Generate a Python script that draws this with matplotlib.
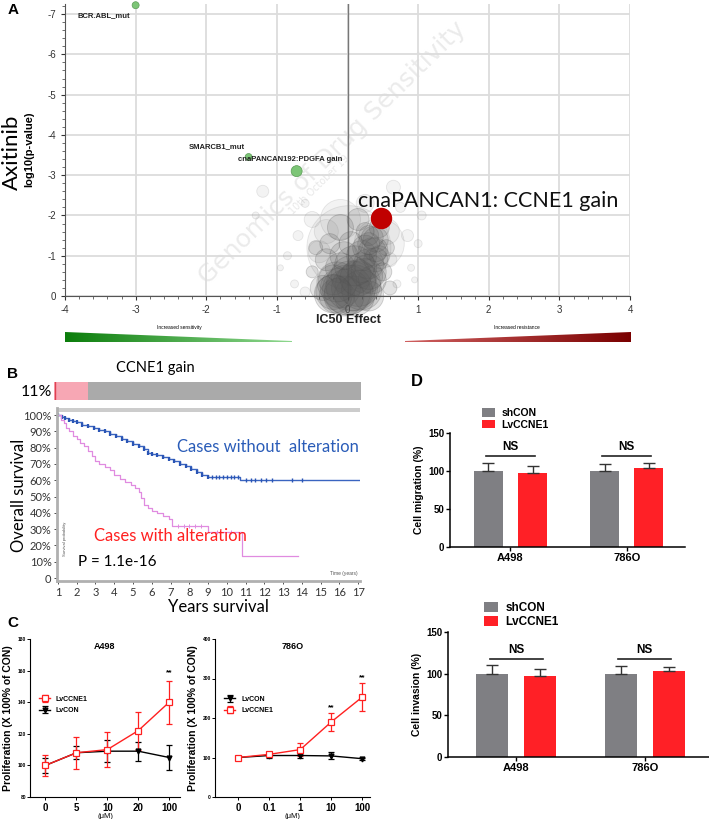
import numpy as np
import matplotlib
matplotlib.use("Agg")
import matplotlib.pyplot as plt
from matplotlib.patches import Polygon
from matplotlib.ticker import MultipleLocator
from matplotlib.colors import LinearSegmentedColormap

plt.rcParams['axes.unicode_minus'] = False
plt.rcParams['font.family'] = ['Liberation Sans', 'DejaVu Sans']

W, H = 709, 819

# ---- panel A data ----
hit_labels = ['BCR.ABL_mut', 'SMARCB1_mut', 'cnaPANCAN192:PDGFA gain']
hit_x = [-3.0, -1.4, -0.72]
hit_y = [-7.22, -3.45, -3.1]
hit_d = [7, 7, 11]
ccne1_x, ccne1_y = 0.47, -1.93

# background features (x effect, log10 p, bubble diameter px)
cloud_x = [0.0, -0.1, 0.15, 0.25, -0.2, 0.3, 0.35, 0.4, 0.45, 0.2, -0.1, -0.3, -0.35, 0.05,
           0.1, -0.15, 0.3, 0.5, 0.55, -0.45, -0.5, 0.6, -0.25, 0.05, -0.05, 0.25, 0.15, -0.1,
           0.0, 0.1, -0.2, 0.2, 0.35, 0.4, -0.05, 0.3, 0.45, 0.3,
           0.05, 0.2, -0.15, 0.3, 0.25, 0.35, 0.1, -0.2, 0.4, 0.15]
cloud_y = [-0.1, -0.2, -0.3, -0.5, -0.4, -0.8, -1.1, -1.4, -1.7, -1.0, -0.7, -0.9, -0.2, -0.5,
           0.0, 0.0, 0.0, -0.6, -1.2, -1.2, -0.6, -0.2, -1.3, -1.3, -1.0, -1.6, -1.9, -1.7,
           -0.15, -0.2, -0.05, -0.7, -0.4, -0.9, 0.0, -1.3, -1.0, -1.5,
           -0.25, -0.15, -0.35, -0.6, -1.2, -1.45, -0.75, -0.1, -1.15, -0.45]
cloud_d = [46, 40, 45, 35, 30, 30, 28, 25, 20, 30, 30, 22, 25, 40,
           40, 35, 30, 18, 16, 14, 12, 14, 20, 24, 28, 18, 22, 26,
           50, 46, 38, 30, 28, 24, 40, 22, 20, 20,
           50, 40, 40, 35, 25, 22, 40, 35, 24, 36]
faint_x = [0.02, -0.1, 0.45, -1.2, -1.3, -0.7, 0.65, 1.05, 1.0, 0.85, -0.85, -0.95, 0.9, 0.7,
           -0.6, 0.75, -0.5, -0.4, 0.55, -0.75, 0.6, 0.95, -0.6, 0.25, -0.3]
faint_y = [-1.2, -1.9, -1.3, -2.6, -2.0, -1.5, -2.7, -2.0, -1.3, -1.5, -1.0, -0.7, -0.7, -0.3,
           -2.3, -2.2, -1.9, -1.1, -1.6, -0.3, -0.9, -0.4, -0.1, -2.3, -1.6]
faint_d = [84, 40, 50, 12, 7, 10, 14, 9, 8, 12, 8, 6, 7, 8,
           8, 10, 16, 22, 26, 8, 14, 6, 10, 18, 24]

# ---- panel B data ----
alt_pct = 11
blue_t = [1.0, 1.2, 1.4, 1.6, 1.8, 2.0, 2.3, 2.6, 2.9, 3.2, 3.5, 3.8, 4.1, 4.4, 4.7, 5.0,
          5.3, 5.6, 5.8, 6.0, 6.3, 6.6, 6.9, 7.2, 7.5, 7.8, 8.1, 8.4, 8.7, 9.0, 10.7, 17.2]
blue_s = [100, 99, 98, 97, 96.5, 95.5, 94, 93, 92, 91, 90, 88.5, 87, 85.5, 84, 82.5,
          81, 79, 77, 76, 75.5, 74.5, 73, 71.5, 70, 68.5, 67, 65, 63.5, 62, 60, 60]
blue_cens_t = [9.2, 9.4, 9.6, 9.8, 10.0, 10.2, 10.4, 10.6, 11.0, 11.3, 11.5, 11.8, 12.1, 12.4, 13.5, 14.0]
blue_cens_s = [62, 62, 62, 62, 62, 62, 62, 62, 60, 60, 60, 60, 60, 60, 60, 60]
pink_t = [1.0, 1.15, 1.3, 1.45, 1.6, 1.8, 2.0, 2.2, 2.4, 2.6, 2.8, 3.0, 3.2, 3.5, 3.8, 4.0,
          4.3, 4.6, 4.9, 5.1, 5.3, 5.45, 5.6, 5.8, 6.0, 6.3, 6.6, 6.9, 7.1, 9.0, 10.8, 13.8]
pink_s = [100, 97, 95, 92, 90, 87, 85, 83, 81, 78, 75, 72, 70, 68, 66, 63,
          61, 59, 57, 55, 53, 49, 45, 43, 41, 40, 38, 36, 32, 28, 13.5, 13.5]
pink_cens_t = [7.4, 7.7, 8.0, 8.3, 8.6, 9.5, 10.2]
pink_cens_s = [32, 32, 32, 32, 32, 28, 28]

# ---- panel C data ----
a498_doses = ['0', '5', '10', '20', '100']
a498_cc = [100, 108, 110, 122, 140]
a498_cc_err = [6.5, 10, 11, 12, 13.5]
a498_con = [100, 108, 109, 109, 105]
a498_con_err = [5, 4, 7, 6, 8]
o786_doses = ['0', '0.1', '1', '10', '100']
o786_cc = [100, 108, 120, 190, 253]
o786_cc_err = [5, 4, 16, 22, 35]
o786_con = [100, 105, 105, 104, 97]
o786_con_err = [5, 6, 7, 9, 3]

# ---- panel D data ----
cells = ['A498', '786O']
mig_sh = [100, 100]
mig_sh_err = [10, 8.6]
mig_lv = [97.6, 104]
mig_lv_err = [9, 6]
inv_sh = [100, 100]
inv_sh_err = [10, 9]
inv_lv = [97, 103]
inv_lv_err = [9, 5]

fig = plt.figure(figsize=(W / 100, H / 100), dpi=100)


def add_ax(l, t, r, b):
    return fig.add_axes([l / W, 1 - b / H, (r - l) / W, (b - t) / H])


def ftext(x, y, s, **kw):
    fig.text(x / W, 1 - y / H, s, **kw)


def pt2(dpx):
    return (dpx * 0.72) ** 2


# ================= A =================
axA = add_ax(65, 4, 630, 296)
axA.set_xlim(-4, 4)
axA.set_ylim(0, -7.25)
axA.set_xticks(range(-4, 5))
axA.set_yticks(range(0, -8, -1))
axA.xaxis.set_minor_locator(MultipleLocator(0.2))
axA.yaxis.set_minor_locator(MultipleLocator(0.2))
axA.grid(color='#dcdcdc', lw=1.3)
axA.set_axisbelow(True)
for s in ['top', 'right']:
    axA.spines[s].set_visible(False)
for s in ['left', 'bottom']:
    axA.spines[s].set_color('#555555')
axA.tick_params(labelsize=7, colors='#333333', length=3, width=0.8)
axA.tick_params(which='minor', length=2, width=0.6, colors='#555555')
axA.axvline(0, color='#777777', lw=1, zorder=1)
axA.text(-0.22, -3.55, 'Genomics of Drug Sensitivity', rotation=44.5, rotation_mode='anchor',
         ha='center', va='center', fontsize=18, color='#ebebeb', family='DejaVu Sans', zorder=0.5)
axA.text(-0.4, -2.75, '10th October 19', rotation=44.5, rotation_mode='anchor',
         ha='center', va='center', fontsize=7, color='#e8e8e8', family='DejaVu Sans', zorder=0.5)
axA.scatter(faint_x, faint_y, s=[pt2(d) for d in faint_d], facecolor=(0.55, 0.55, 0.55, 0.10),
            edgecolor=(0.5, 0.5, 0.5, 0.18), lw=0.6, clip_on=False, zorder=2)
axA.scatter(cloud_x, cloud_y, s=[pt2(d) for d in cloud_d], facecolor=(0.35, 0.35, 0.35, 0.17),
            edgecolor=(0.3, 0.3, 0.3, 0.25), lw=0.6, clip_on=False, zorder=2)
axA.scatter(hit_x, hit_y, s=[pt2(d) for d in hit_d], color='#7cc576', edgecolor='#5a9a55',
            lw=0.5, clip_on=False, zorder=3)
axA.scatter([ccne1_x], [ccne1_y], s=pt2(20), color='#c00000', zorder=4)
axA.text(hit_x[0] - 0.08, hit_y[0] + 0.25, hit_labels[0], ha='right', va='center',
         fontsize=5.5, weight='bold', color='#222222')
axA.text(hit_x[1] - 0.05, hit_y[1] - 0.25, hit_labels[1], ha='right', va='center',
         fontsize=5.5, weight='bold', color='#222222')
axA.text(hit_x[2] + 0.65, hit_y[2] - 0.3, hit_labels[2], ha='right', va='center',
         fontsize=5.5, weight='bold', color='#222222')
axA.text(0.15, ccne1_y - 0.43, 'cnaPANCAN1: CCNE1 gain', ha='left', va='center',
         fontsize=15.5, family='Lato', color='#111111')
ftext(13, 10, 'A', fontsize=11, weight='bold', ha='center', va='center')
ftext(12, 152, 'Axitinib', fontsize=16, rotation=90, ha='center', va='center', family='Lato')
ftext(29, 149, 'log10(p-value)', fontsize=8, weight='bold', rotation=90, ha='center', va='center')
ftext(348, 320, 'IC50 Effect', fontsize=9, weight='bold', ha='center', va='center', color='#222222')
ftext(179, 327.5, 'Increased sensitivity', fontsize=3.5, ha='center', va='center')
ftext(517, 327.5, 'Increased resistance', fontsize=3.5, ha='center', va='center')

axO = fig.add_axes([0, 0, 1, 1])
axO.set_xlim(0, W)
axO.set_ylim(H, 0)
axO.axis('off')
axO.patch.set_alpha(0)
green_map = LinearSegmentedColormap.from_list('g', ['#0b7d0b', '#8fd88f'])
red_map = LinearSegmentedColormap.from_list('r', ['#d06060', '#7a0000'])
grad = np.linspace(0, 1, 256).reshape(1, -1)
im = axO.imshow(grad, cmap=green_map, extent=[65, 292, 342, 332], aspect='auto')
im.set_clip_path(Polygon([(65, 332), (292, 341), (292, 342), (65, 342)], transform=axO.transData))
im = axO.imshow(grad, cmap=red_map, extent=[405, 631, 342, 332], aspect='auto')
im.set_clip_path(Polygon([(405, 341), (631, 332), (631, 342), (405, 342)], transform=axO.transData))

# ================= B =================
axBar = add_ax(54, 382, 361, 400)
axBar.barh(0, alt_pct, left=0, height=1, color='#f7a7b4')
axBar.barh(0, 100 - alt_pct, left=alt_pct, height=1, color='#aaaaaa')
axBar.set_xlim(0, 100)
axBar.set_ylim(-0.5, 0.5)
axBar.axis('off')
axBar.axvline(0.2, color='#e04050', lw=1)
ftext(155, 368, 'CCNE1 gain', fontsize=10.5, family='Lato', ha='center', va='center')
ftext(36, 392, '11%', fontsize=11.5, family='Lato', ha='center', va='center')
ftext(13, 374, 'B', fontsize=11, weight='bold', ha='center', va='center')

axK = add_ax(57, 407.7, 360, 581.3)
axK.set_xlim(0.95, 17.1)
axK.set_ylim(-2, 104.5)
axK.axhspan(101.6, 104.5, color='#cccccc', lw=0)
axK.plot(blue_t, blue_s, drawstyle='steps-post', color='#3a64c0', lw=1.0)
axK.plot(blue_t[:-2], blue_s[:-2], ls='none', marker='|', ms=3.5, mew=1.6, color='#2a55b5')
axK.plot(blue_cens_t, blue_cens_s, ls='none', marker='|', ms=3, mew=1, color='#2a55b5')
axK.plot(pink_t, pink_s, drawstyle='steps-post', color='#e08be0', lw=0.9)
axK.plot(pink_cens_t, pink_cens_s, ls='none', marker='|', ms=2.5, mew=0.7, color='#e08be0')
axK.set_xticks(range(1, 18))
axK.set_yticks(range(0, 101, 10))
axK.set_yticklabels(['0'] + [f'{v}%' for v in range(10, 101, 10)])
axK.tick_params(labelsize=8, length=2, width=0.6, colors='#333333', pad=2)
for lab in axK.get_xticklabels() + axK.get_yticklabels():
    lab.set_family('Lato')
for s in ['top', 'right']:
    axK.spines[s].set_visible(False)
for s in ['left', 'bottom']:
    axK.spines[s].set_color('#b0b0b0')
    axK.spines[s].set_linewidth(2)
axK.text(1.35, 24, 'Survival probability', rotation=90, fontsize=3, ha='center', va='center', color='#555555')
axK.text(16.95, 1, 'Time (years)', fontsize=3.5, ha='right', va='bottom', color='#555555')
ftext(268, 447, 'Cases without  alteration', fontsize=12, family='Lato', color='#2a5cb8', ha='center', va='center')
ftext(170, 536, 'Cases with alteration', fontsize=12, family='Lato', color='#ff2020', ha='center', va='center')
ftext(117, 562, 'P = 1.1e-16', fontsize=11, family='Lato', ha='center', va='center')
ftext(19, 495, 'Overall survival', fontsize=12, family='Lato', rotation=90, ha='center', va='center')
ftext(218, 607, 'Years survival', fontsize=12, family='Lato', ha='center', va='center')

# ================= C =================
ftext(13, 623, 'C', fontsize=11, weight='bold', ha='center', va='center')


def prolif(ax, doses, cc, cc_err, con, con_err, ylim, yticks, con_first):
    xs = np.arange(len(doses))
    l1 = ax.errorbar(xs, con, yerr=con_err, color='black', marker='v', ms=3.5, lw=1,
                     capsize=2.5, elinewidth=0.9, capthick=0.9, label='LvCON')
    l2 = ax.errorbar(xs, cc, yerr=cc_err, color='#ff2020', marker='s', ms=4.5, mfc='white',
                     mec='#ff2020', mew=0.9, lw=1, capsize=2.5, elinewidth=0.9, capthick=0.9,
                     label='LvCCNE1')
    ax.set_ylim(*ylim)
    ax.set_yticks(yticks)
    ax.set_xticks(xs)
    ax.set_xticklabels(doses)
    for s in ['top', 'right']:
        ax.spines[s].set_visible(False)
    ax.tick_params(axis='y', labelsize=3.5, length=2, width=0.7, pad=1)
    ax.tick_params(axis='x', labelsize=7, length=2, width=0.7, pad=2)
    for lab in ax.get_xticklabels() + ax.get_yticklabels():
        lab.set_weight('bold')
    ax.set_ylabel('Proliferation (X 100% of CON)', fontsize=7.5, weight='bold', labelpad=3)
    ax.set_xlabel('(\u03bcM)', fontsize=5.5, labelpad=0)
    order = [l1, l2] if con_first else [l2, l1]
    ax.legend(handles=order, loc='upper left', bbox_to_anchor=(0.02, 0.68), frameon=False,
              prop={'size': 5, 'weight': 'bold'}, handlelength=1.6, labelspacing=0.6)
    return xs


axC1 = add_ax(30, 639, 180, 797)
axC1.set_xlim(-0.5, 4.35)
xs = prolif(axC1, a498_doses, a498_cc, a498_cc_err, a498_con, a498_con_err,
            (80, 180), range(80, 181, 20), False)
axC1.text(xs[4], a498_cc[4] + a498_cc_err[4] + 5, '**', ha='center', va='center', fontsize=6, weight='bold')
axC1.text(0.5, 0.98, 'A498', transform=axC1.transAxes, ha='center', va='top', fontsize=6.5, weight='bold')

axC2 = add_ax(215, 639, 370, 797)
axC2.set_xlim(-0.75, 4.25)
xs = prolif(axC2, o786_doses, o786_cc, o786_cc_err, o786_con, o786_con_err,
            (0, 400), range(0, 401, 100), True)
for i in [3, 4]:
    axC2.text(xs[i], o786_cc[i] + o786_cc_err[i] + 15, '**', ha='center', va='center', fontsize=6, weight='bold')
axC2.text(0.5, 0.98, '786O', transform=axC2.transAxes, ha='center', va='top', fontsize=6.5, weight='bold')

# ================= D =================
ftext(417, 382, 'D', fontsize=12, weight='bold', ha='center', va='center')


def bars(ax, sh, sh_err, lv, lv_err, ylabel, off, ns_y, lab_size):
    xs = np.arange(len(cells))
    ax.bar(xs - off, sh, width=0.25, color='#7f7f83', label='shCON')
    ax.bar(xs + off, lv, width=0.25, color='#ff2026', label='LvCCNE1')
    ax.errorbar(xs - off, sh, yerr=[[0, 0], sh_err], fmt='none', ecolor='#333333',
                elinewidth=1, capsize=4, capthick=1)
    ax.errorbar(xs + off, lv, yerr=[[0, 0], lv_err], fmt='none', ecolor='#333333',
                elinewidth=1, capsize=4, capthick=1)
    for x in xs:
        ax.plot([x - off - 0.02, x + off + 0.02], [ns_y, ns_y], color='#222222', lw=1.2)
        ax.text(x, ns_y + 3, 'NS', ha='center', va='bottom', fontsize=8.5, weight='bold')
    ax.set_ylim(0, 150)
    ax.set_yticks([0, 50, 100, 150])
    ax.set_xticks(xs)
    ax.set_xticklabels(cells)
    for s in ['top', 'right']:
        ax.spines[s].set_visible(False)
    ax.spines['left'].set_linewidth(1.1)
    ax.spines['bottom'].set_linewidth(1.1)
    ax.tick_params(axis='y', labelsize=7, length=3, width=1, pad=1)
    ax.tick_params(axis='x', labelsize=8, length=3, width=1, pad=1)
    for lab in ax.get_xticklabels() + ax.get_yticklabels():
        lab.set_weight('bold')
    ax.set_ylabel(ylabel, fontsize=7.5, weight='bold', labelpad=3)
    ax.legend(loc='lower left', bbox_to_anchor=(0.12, 0.99), frameon=False,
              prop={'size': lab_size, 'weight': 'bold'}, handlelength=1.2, handleheight=0.9,
              labelspacing=0.15, borderaxespad=0, handletextpad=0.6)


axD1 = add_ax(450, 432.7, 685, 547.3)
axD1.set_xlim(-0.52, 1.5)
bars(axD1, mig_sh, mig_sh_err, mig_lv, mig_lv_err, 'Cell migration (%)', 0.19, 120, 7.5)

axD2 = add_ax(448, 631.7, 709, 757.3)
axD2.set_xlim(-0.53, 1.5)
bars(axD2, inv_sh, inv_sh_err, inv_lv, inv_lv_err, 'Cell invasion (%)', 0.187, 117.5, 8.5)

fig.savefig('out.png', dpi=100)
